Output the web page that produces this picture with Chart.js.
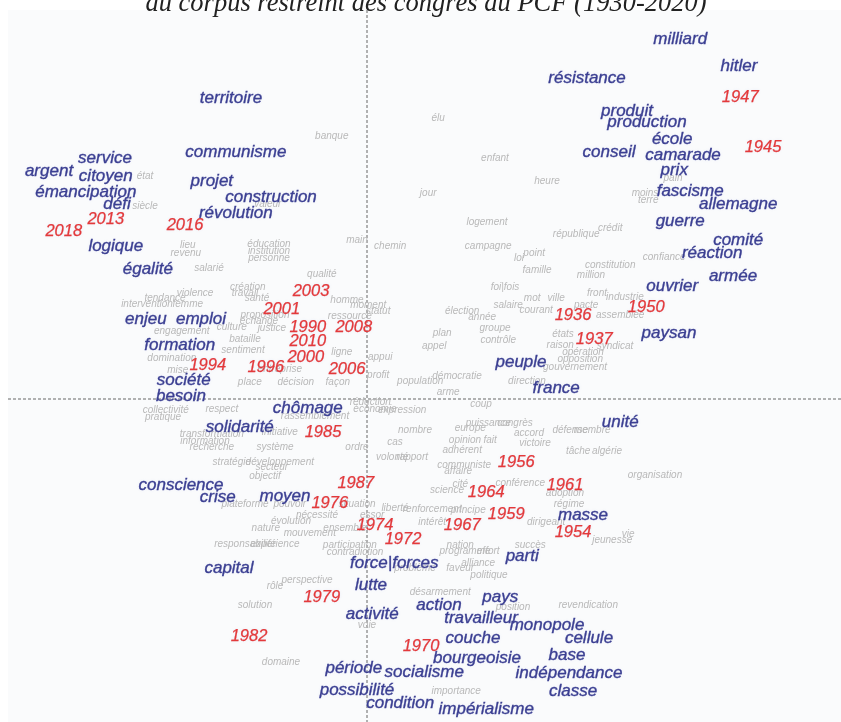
<!DOCTYPE html>
<html>
<head>
<meta charset="utf-8">
<script src="https://cdn.jsdelivr.net/npm/chart.js@4/dist/chart.umd.min.js"></script>
<style>
    body { margin: 0; background: #fff; overflow: hidden; }
    #chartWrapper { width: 841px; height: 722px; }
</style>
</head>
<body>
<div id="chartWrapper"><canvas id="chart"></canvas></div>
<script>
'use strict';

// Congress years (red)
const yearLabels = ['1947', '1945', '1950', '1936', '1937', '2013', '2018', '2016', '2003', '2001',
    '1990', '2008', '2010', '2000', '1994', '1996', '2006', '1985', '1987', '1976', '1974', '1972',
    '1979', '1982', '1970', '1967', '1959', '1964', '1961', '1954', '1956'];
const yearX = [0.933, 0.99, 0.698, 0.515, 0.568, -0.653, -0.758, -0.455, -0.14, -0.213,
    -0.148, -0.033, -0.148, -0.153, -0.398, -0.253, -0.05, -0.11, -0.028, -0.093, 0.02, 0.09,
    -0.113, -0.295, 0.135, 0.238, 0.348, 0.298, 0.495, 0.515, 0.373];
const yearY = [0.753, 0.63, 0.228, 0.21, 0.15, 0.45, 0.418, 0.433, 0.27, 0.223,
    0.18, 0.178, 0.143, 0.105, 0.085, 0.08, 0.075, -0.083, -0.21, -0.26, -0.315, -0.35,
    -0.495, -0.593, -0.618, -0.315, -0.288, -0.233, -0.215, -0.333, -0.158];

// Most contributing words (blue)
const wordLabels = ['milliard', 'hitler', 'résistance', 'produit', 'production', 'école', 'conseil',
    'camarade', 'prix', 'fascisme', 'allemagne', 'guerre', 'comité', 'réaction', 'armée', 'ouvrier',
    'paysan', 'peuple', 'france', 'unité', 'territoire', 'communisme', 'projet', 'construction',
    'révolution', 'service', 'argent', 'citoyen', 'émancipation', 'défi', 'logique', 'égalité',
    'enjeu', 'emploi', 'formation', 'société', 'besoin', 'chômage', 'solidarité', 'conscience',
    'crise', 'moyen', 'capital', 'force|forces', 'lutte', 'activité', 'parti', 'masse', 'pays',
    'action', 'travailleur', 'monopole', 'couche', 'cellule', 'bourgeoisie', 'base', 'période',
    'socialisme', 'indépendance', 'possibilité', 'classe', 'condition', 'impérialisme'];
const wordX = [0.783, 0.93, 0.55, 0.65, 0.7, 0.763, 0.605,
    0.79, 0.768, 0.808, 0.928, 0.783, 0.928, 0.863, 0.915, 0.763,
    0.755, 0.385, 0.473, 0.633, -0.34, -0.328, -0.388, -0.24,
    -0.328, -0.655, -0.795, -0.653, -0.703, -0.625, -0.628, -0.548,
    -0.553, -0.415, -0.468, -0.458, -0.465, -0.148, -0.318, -0.465,
    -0.373, -0.205, -0.345, 0.068, 0.01, 0.013, 0.388, 0.54, 0.333,
    0.18, 0.285, 0.45, 0.265, 0.555, 0.275, 0.5, -0.033,
    0.143, 0.505, -0.025, 0.515, 0.083, 0.298];
const wordY = [0.9, 0.833, 0.803, 0.72, 0.693, 0.65, 0.618,
    0.61, 0.573, 0.52, 0.488, 0.445, 0.398, 0.365, 0.308, 0.283,
    0.165, 0.093, 0.028, -0.058, 0.753, 0.618, 0.545, 0.505,
    0.465, 0.603, 0.57, 0.558, 0.518, 0.488, 0.383, 0.325,
    0.2, 0.2, 0.135, 0.048, 0.008, -0.023, -0.07, -0.215,
    -0.245, -0.243, -0.423, -0.41, -0.465, -0.538, -0.393, -0.29, -0.495,
    -0.515, -0.548, -0.565, -0.598, -0.598, -0.648, -0.64, -0.673,
    -0.683, -0.685, -0.728, -0.73, -0.76, -0.775];

// Other words (grey)
const minorLabels = ['pain', 'moins', 'terre', 'confiance', 'défense', 'membre', 'tâche', 'algérie',
    'organisation', 'revendication', 'jeunesse', 'vie', 'banque', 'valeur', 'main', 'chemin', 'état',
    'siècle', 'lieu', 'revenu', 'salarié', 'éducation', 'institution', 'personne', 'qualité',
    'violence', 'création', 'travail', 'santé', 'intervention', 'femme', 'tendance', 'homme',
    'moment', 'statut', 'proposition', 'échange', 'culture', 'justice', 'engagement', 'ressource',
    'bataille', 'sentiment', 'ligne', 'domination', 'mise', 'entreprise', 'appui', 'profit', 'place',
    'décision', 'façon', 'population', 'démocratie', 'direction', 'arme', 'coup', 'gouvernement',
    'états', 'raison', 'syndicat', 'opération', 'opposition', 'pacte', 'front', 'industrie',
    'assemblée', 'mot', 'ville', 'salaire', 'courant', 'élection', 'année', 'foi|fois', 'plan',
    'appel', 'groupe', 'contrôle', 'campagne', 'point', 'loi', 'famille', 'constitution', 'million',
    'logement', 'république', 'crédit', 'élu', 'enfant', 'heure', 'jour', 'rassemblement', 'respect',
    'collectivité', 'pratique', 'initiative', 'réduction', 'économie', 'expression', 'ordre',
    'système', 'transformation', 'information', 'recherche', 'stratégie', 'développement', 'secteur',
    'objectif', 'plateforme', 'pouvoir', 'situation', 'nécessité', 'évolution', 'nature', 'mouvement',
    'ensemble', 'essor', 'liberté', 'renforcement', 'responsabilité', 'expérience', 'participation',
    'contradiction', 'problème', 'perspective', 'rôle', 'désarmement', 'solution', 'voie', 'domaine',
    'importance', 'position', 'politique', 'alliance', 'faveur', 'nation', 'programme', 'effort',
    'succès', 'intérêt', 'principe', 'cité', 'science', 'conférence', 'adoption', 'régime',
    'dirigeant', 'communiste', 'affaire', 'adhérent', 'opinion', 'europe', 'puissance', 'congrès',
    'accord', 'victoire', 'nombre', 'fait', 'volonté', 'rapport', 'cas'];
const minorX = [0.765, 0.695, 0.703, 0.743, 0.508, 0.563, 0.528, 0.6,
    0.72, 0.553, 0.613, 0.653, -0.088, -0.248, -0.025, 0.058, -0.555,
    -0.555, -0.448, -0.453, -0.395, -0.245, -0.245, -0.245, -0.113,
    -0.43, -0.298, -0.305, -0.275, -0.55, -0.448, -0.505, -0.05,
    0.003, 0.028, -0.255, -0.27, -0.338, -0.238, -0.463, -0.043,
    -0.305, -0.31, -0.063, -0.488, -0.473, -0.218, 0.033, 0.028, -0.293,
    -0.178, -0.073, 0.133, 0.225, 0.4, 0.203, 0.285, 0.52,
    0.49, 0.483, 0.62, 0.54, 0.533, 0.548, 0.575, 0.645,
    0.633, 0.413, 0.473, 0.353, 0.423, 0.238, 0.288, 0.345, 0.188,
    0.168, 0.32, 0.328, 0.303, 0.418, 0.38, 0.425, 0.608, 0.56,
    0.3, 0.523, 0.608, 0.178, 0.32, 0.45, 0.153, -0.13, -0.363,
    -0.503, -0.51, -0.218, 0.008, 0.02, 0.088, -0.025,
    -0.23, -0.388, -0.405, -0.388, -0.338, -0.218, -0.238,
    -0.255, -0.305, -0.193, -0.025, -0.125, -0.19, -0.253, -0.143,
    -0.055, 0.013, 0.07, 0.163, -0.305, -0.23, -0.043,
    -0.03, 0.12, -0.15, -0.23, 0.183, -0.28, 0, -0.215,
    0.223, 0.365, 0.305, 0.278, 0.233, 0.233, 0.245, 0.303,
    0.408, 0.163, 0.253, 0.233, 0.2, 0.383, 0.495, 0.505,
    0.448, 0.243, 0.228, 0.238, 0.245, 0.258, 0.303, 0.37,
    0.405, 0.42, 0.12, 0.308, 0.063, 0.113, 0.07];
const minorY = [0.553, 0.515, 0.498, 0.355, -0.078, -0.078, -0.13, -0.13,
    -0.19, -0.515, -0.353, -0.338, 0.658, 0.488, 0.398, 0.383, 0.558,
    0.483, 0.385, 0.365, 0.328, 0.388, 0.37, 0.353, 0.313,
    0.265, 0.28, 0.265, 0.253, 0.238, 0.238, 0.253, 0.248,
    0.235, 0.22, 0.21, 0.195, 0.18, 0.178, 0.17, 0.208,
    0.15, 0.123, 0.118, 0.103, 0.073, 0.075, 0.105, 0.06, 0.043,
    0.043, 0.043, 0.045, 0.058, 0.045, 0.018, -0.013, 0.08,
    0.163, 0.135, 0.133, 0.118, 0.1, 0.235, 0.265, 0.255,
    0.21, 0.253, 0.253, 0.235, 0.223, 0.22, 0.205, 0.28, 0.165,
    0.133, 0.178, 0.148, 0.383, 0.365, 0.353, 0.323, 0.335, 0.31,
    0.443, 0.413, 0.428, 0.703, 0.603, 0.545, 0.515, -0.043, -0.025,
    -0.028, -0.045, -0.083, -0.008, -0.025, -0.028, -0.12,
    -0.12, -0.088, -0.105, -0.12, -0.158, -0.158, -0.17,
    -0.193, -0.263, -0.263, -0.263, -0.29, -0.305, -0.323, -0.335,
    -0.323, -0.29, -0.273, -0.275, -0.363, -0.363, -0.365,
    -0.383, -0.423, -0.453, -0.468, -0.483, -0.515, -0.565, -0.658,
    -0.73, -0.52, -0.44, -0.41, -0.423, -0.365, -0.38, -0.38,
    -0.365, -0.308, -0.278, -0.213, -0.228, -0.21, -0.235, -0.263,
    -0.308, -0.165, -0.18, -0.128, -0.103, -0.073, -0.06, -0.06,
    -0.085, -0.11, -0.078, -0.103, -0.145, -0.145, -0.108];

const toPoints = function (xs, ys) {
    return xs.map((x, i) => ({ x: x, y: ys[i] }));
};

const groups = [
    { labels: minorLabels, font: 'italic 10px "Liberation Sans"', color: '#b9b9b9', halo: 0, stroke: 0 },
    { labels: wordLabels, font: 'italic 17px "Liberation Sans"', color: '#3b3f92', halo: 3, stroke: 0.35 },
    { labels: yearLabels, font: 'italic 16.5px "Liberation Sans"', color: '#e3393b', halo: 3, stroke: 0.25 },
];

// Draws the word of each point instead of a marker
const textLabelsPlugin = {
    id: 'textLabels',
    afterDatasetsDraw(chart) {
        const ctx = chart.ctx;
        ctx.save();
        ctx.textAlign = 'center';
        ctx.textBaseline = 'middle';
        chart.data.datasets.forEach((ds, i) => {
            const group = groups[i];
            const pts = chart.getDatasetMeta(i).data;
            ctx.font = group.font;
            ctx.fillStyle = group.color;
            ctx.strokeStyle = group.color;
            ctx.lineWidth = group.stroke;
            pts.forEach((pt, j) => {
                ctx.shadowColor = 'rgba(205, 210, 240, 0.45)';
                ctx.shadowBlur = group.halo;
                ctx.fillText(group.labels[j], pt.x, pt.y);
                ctx.shadowBlur = 0;
                ctx.shadowColor = 'transparent';
                if (group.stroke) {
                    ctx.strokeText(group.labels[j], pt.x, pt.y);
                }
            });
        });
        ctx.restore();
    },
};

const backgroundPlugin = {
    id: 'plotBackground',
    beforeDatasetsDraw(chart) {
        const { ctx, chartArea, scales } = chart;
        ctx.save();
        ctx.fillStyle = '#fafbfc';
        ctx.fillRect(chartArea.left, chartArea.top, chartArea.right - chartArea.left, chartArea.bottom - chartArea.top);

        // dashed axes through the origin
        const x0 = scales.x.getPixelForValue(0);
        const y0 = scales.y.getPixelForValue(0);
        ctx.strokeStyle = '#666';
        ctx.lineWidth = 1;
        ctx.setLineDash([3, 2]);
        ctx.beginPath();
        ctx.moveTo(x0, chartArea.top);
        ctx.lineTo(x0, chartArea.bottom);
        ctx.moveTo(chartArea.left, y0);
        ctx.lineTo(chartArea.right, y0);
        ctx.stroke();
        ctx.restore();
    },
    afterDraw(chart) {
        // title, its top is cut by the edge of the page
        const ctx = chart.ctx;
        ctx.save();
        ctx.font = 'italic 26.5px "Liberation Serif"';
        ctx.fillStyle = '#222';
        ctx.textAlign = 'center';
        ctx.textBaseline = 'alphabetic';
        ctx.fillText('du corpus restreint des congrès du PCF (1930-2020)', 426, 11);
        ctx.restore();
    },
};

const chart = new Chart(document.getElementById('chart'), {
    type: 'scatter',
    data: {
        datasets: [
            { data: toPoints(minorX, minorY), pointRadius: 0 },
            { data: toPoints(wordX, wordY), pointRadius: 0 },
            { data: toPoints(yearX, yearY), pointRadius: 0 },
        ],
    },
    options: {
        responsive: true,
        maintainAspectRatio: false,
        animation: false,
        layout: { padding: { left: 8, top: 10, right: 0, bottom: 0 } },
        plugins: {
            legend: { display: false },
            tooltip: { enabled: false },
        },
        scales: {
            x: { type: 'linear', min: -0.8975, max: 1.185, display: false },
            y: { type: 'linear', min: -0.8075, max: 0.9725, display: false },
        },
    },
    plugins: [backgroundPlugin, textLabelsPlugin],
});
</script>
</body>
</html>
